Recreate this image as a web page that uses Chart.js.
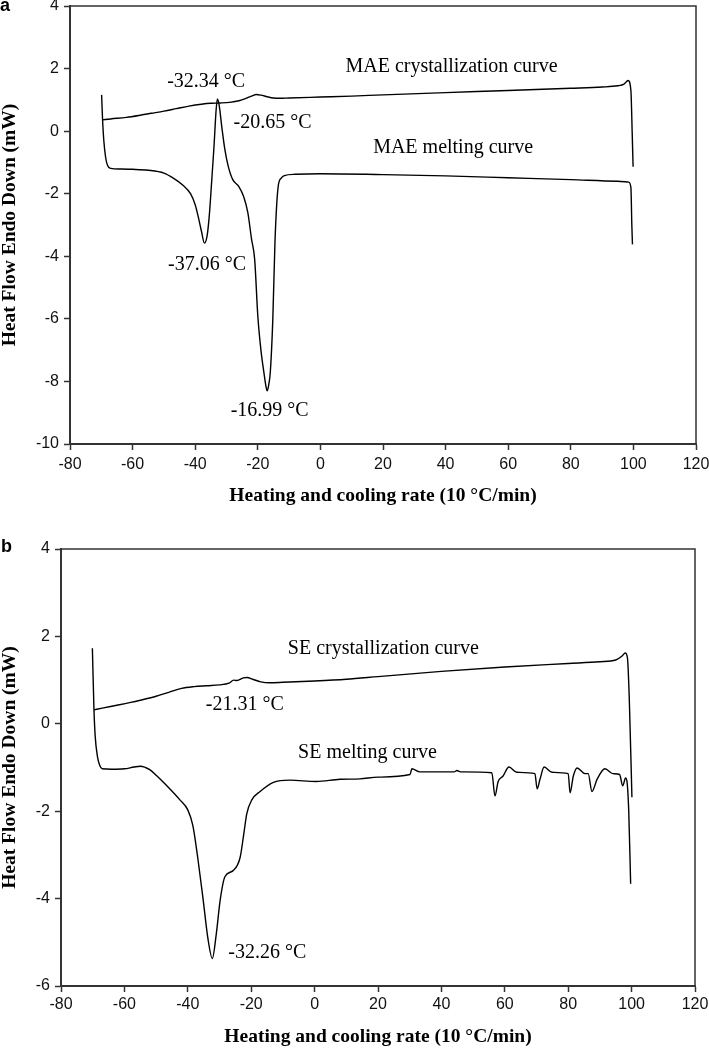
<!DOCTYPE html>
<html>
<head>
<meta charset="utf-8">
<script src="https://cdn.jsdelivr.net/npm/chart.js@4.4.1/dist/chart.umd.min.js"></script>
<style>
  html, body { margin: 0; padding: 0; background: #fff; }
  #page { position: relative; width: 709px; height: 1048px; overflow: hidden; }
  .panel { position: absolute; left: 0; width: 709px; }
  .letter { position: absolute; font: bold 18px "Liberation Sans", Arial, sans-serif; line-height: 18px; color: #000; }
</style>
</head>
<body>
<div id="page">
  <div class="panel" style="top:0;height:520px"><canvas id="chartA"></canvas></div>
  <div class="panel" style="top:520px;height:528px"><canvas id="chartB"></canvas></div>
  <div class="letter" style="left:0;top:-4px">a</div>
  <div class="letter" style="left:1px;top:537px">b</div>
</div>
<script>
// temperature axis (°C) shared by both panels
var xTicks = [-80, -60, -40, -20, 0, 20, 40, 60, 80, 100, 120];
var yTicksA = [-10, -8, -6, -4, -2, 0, 2, 4];
var yTicksB = [-6, -4, -2, 0, 2, 4];

// panel a - MAE
var maeCrystT = [-69.6, -67, -62, -58, -54, -50, -46, -42, -38, -35, -32, -29, -26, -24, -22, -20.5, -19, -17, -15, -13, -10, 0, 10, 20, 40, 60, 80, 90, 95, 97, 98.3, 99.2, 99.6, 99.9];
var maeCrystHF = [0.36, 0.39, 0.44, 0.50, 0.57, 0.64, 0.72, 0.80, 0.86, 0.89, 0.90, 0.92, 0.97, 1.04, 1.12, 1.17, 1.15, 1.10, 1.06, 1.05, 1.06, 1.09, 1.12, 1.16, 1.23, 1.30, 1.37, 1.41, 1.45, 1.50, 1.62, 1.30, 0.0, -1.14];

var maeMeltT = [-69.9, -69.6, -69.2, -68.6, -68, -67, -64, -60, -55, -50, -47, -44, -41.5, -40, -39, -38, -37.06, -36.2, -35.5, -34.8, -34, -33.3, -32.9, -32.3, -31.5, -30.5, -29.5, -28, -26, -24.5, -23.2, -22, -21, -20, -19, -18, -17.4, -16.99, -16.5, -16, -15.2, -14.5, -13.5, -12.5, -11.5, -8, 0, 20, 40, 60, 80, 95, 98.5, 99.2, 99.5, 99.7];
var maeMeltHF = [1.16, 0.38, -0.3, -0.85, -1.1, -1.19, -1.21, -1.22, -1.25, -1.34, -1.5, -1.72, -2.0, -2.35, -2.75, -3.2, -3.58, -3.35, -2.7, -1.7, -0.5, 0.7, 1.03, 0.8, 0.13, -0.6, -1.1, -1.55, -1.78, -2.1, -2.6, -3.45, -4.1, -5.9, -7.0, -7.75, -8.15, -8.3, -8.1, -7.7, -6.0, -3.5, -1.78, -1.5, -1.42, -1.38, -1.36, -1.39, -1.43, -1.49, -1.55, -1.6, -1.63, -1.8, -3.0, -3.62];

var noteTextA = ['-32.34 °C', '-20.65 °C', 'MAE crystallization curve', 'MAE melting curve', '-37.06 °C', '-16.99 °C'];
var noteXA = [-36.5, -15.3, 41.9, 42.4, -36.2, -16.2];
var noteYA = [1.57, 0.28, 2.05, -0.52, -4.26, -8.94];

// panel b - SE
var seCrystT = [-69.6, -67, -62, -58, -55, -50, -46, -42, -38, -34, -30, -27, -25.5, -24.5, -22.5, -21.3, -19.5, -17, -14, -10, 0, 10, 20, 40, 60, 80, 90, 95, 97, 98, 98.7, 99.3, 100.1];
var seCrystHF = [0.32, 0.36, 0.43, 0.49, 0.54, 0.63, 0.72, 0.81, 0.85, 0.87, 0.89, 0.93, 1.0, 0.99, 1.05, 1.06, 1.02, 0.96, 0.94, 0.95, 0.98, 1.02, 1.08, 1.2, 1.3, 1.38, 1.42, 1.46, 1.55, 1.62, 1.5, 0.5, -1.68];

var seMeltT = [-70.1, -69.6, -69.2, -68.5, -67.8, -67, -64, -60, -57, -55, -52, -49.8, -46.6, -42.5, -40, -38.4, -36.8, -35.2, -33.6, -32.26, -31, -29.8, -28.3, -25.7, -23.5, -22.3, -21.4, -19.8, -17.2, -13, -7.8, 0.5, 8, 14.3, 20, 30.1, 30.7, 33.2, 44, 44.9, 46, 55.9, 56.9, 57.9, 59.4, 61.3, 63.8, 69.5, 70.2, 71.1, 72.4, 74.9, 80, 80.6, 81.6, 82.8, 85.3, 86.3, 87.5, 89.1, 91.6, 94.1, 96.2, 97.2, 98.1, 98.5, 99.1, 99.7];
var seMeltHF = [1.73, 0.32, -0.3, -0.75, -0.95, -1.03, -1.04, -1.03, -0.99, -0.97, -1.05, -1.19, -1.42, -1.74, -1.97, -2.33, -3.1, -4.0, -4.94, -5.37, -4.8, -4.04, -3.5, -3.36, -3.06, -2.5, -2.06, -1.74, -1.55, -1.34, -1.29, -1.32, -1.27, -1.26, -1.22, -1.16, -1.03, -1.1, -1.1, -1.07, -1.1, -1.12, -1.65, -1.32, -1.2, -0.99, -1.11, -1.14, -1.49, -1.27, -0.99, -1.11, -1.14, -1.58, -1.2, -1.01, -1.14, -1.14, -1.55, -1.27, -1.03, -1.14, -1.16, -1.42, -1.24, -1.3, -2.0, -3.66];

var noteTextB = ['SE crystallization curve', '-21.31 °C', 'SE melting curve', '-32.26 °C'];
var noteXB = [21.7, -22.0, 16.7, -14.9];
var noteYB = [1.72, 0.44, -0.66, -5.23];

var serif = '"Liberation Serif", "Times New Roman", serif';
var sans = '"Liberation Sans", Arial, sans-serif';

function pairs(xs, ys) {
    return xs.map(function (x, i) { return {x: x, y: ys[i]}; });
}

function curve(xs, ys) {
    return {
        data: pairs(xs, ys),
        showLine: true,
        borderColor: '#000',
        borderWidth: 1.4,
        pointRadius: 0,
        cubicInterpolationMode: 'monotone',
        fill: false
    };
}

// box on top/right and the in-plot notes
var framePlugin = {
    id: 'frame',
    afterDatasetsDraw: function (chart, args, opts) {
        var ctx = chart.ctx, a = chart.chartArea;
        var xs = chart.scales.x, ys = chart.scales.y;
        ctx.save();
        ctx.strokeStyle = '#333';
        ctx.lineWidth = 1.5;
        ctx.beginPath();
        ctx.moveTo(a.left, a.top);
        ctx.lineTo(a.right, a.top);
        ctx.lineTo(a.right, a.bottom);
        ctx.stroke();
        ctx.fillStyle = '#000';
        ctx.font = '20px ' + serif;
        ctx.textAlign = 'center';
        ctx.textBaseline = 'middle';
        opts.texts.forEach(function (t, i) {
            ctx.fillText(t, xs.getPixelForValue(opts.xs[i]), ys.getPixelForValue(opts.ys[i]));
        });
        ctx.restore();
    }
};

function makeOptions(yTicks, lay) {
    return {
        responsive: true,
        maintainAspectRatio: false,
        animation: false,
        layout: {padding: {top: lay.top, right: lay.right, left: 0, bottom: 0}},
        plugins: {
            legend: {display: false},
            tooltip: {enabled: false},
            frame: {texts: lay.texts, xs: lay.nx, ys: lay.ny}
        },
        scales: {
            x: {
                type: 'linear',
                min: xTicks[0],
                max: xTicks[xTicks.length - 1],
                ticks: {stepSize: 20, color: '#111', padding: lay.xTickPad, font: {family: sans, size: 16}},
                grid: {drawOnChartArea: false, drawTicks: true, tickLength: 6, tickColor: '#333', tickWidth: 1.5},
                border: {color: '#333', width: 2},
                title: {
                    display: true,
                    text: 'Heating and cooling rate (10 °C/min)',
                    color: '#000',
                    font: {family: serif, size: 19.5, weight: 'bold', lineHeight: 1},
                    padding: {top: 0, bottom: lay.xTitlePad}
                },
                afterFit: function (s) { s.height = lay.xHeight; s.paddingLeft = 0; s.paddingRight = 0; }
            },
            y: {
                type: 'linear',
                min: yTicks[0],
                max: yTicks[yTicks.length - 1],
                ticks: {stepSize: 2, color: '#111', padding: 5, font: {family: sans, size: 16}},
                grid: {drawOnChartArea: false, drawTicks: true, tickLength: 6, tickColor: '#333', tickWidth: 1.5},
                border: {color: '#333', width: 2},
                title: {
                    display: true,
                    text: 'Heat Flow Endo Down (mW)',
                    color: '#000',
                    font: {family: serif, size: 19.5, weight: 'bold', lineHeight: 1},
                    padding: {top: lay.yTitlePad, bottom: 0}
                },
                afterFit: function (s) { s.width = lay.yWidth; s.paddingTop = 0; s.paddingBottom = 0; }
            }
        }
    };
}

var chartA = new Chart(document.getElementById('chartA'), {
    type: 'scatter',
    data: {datasets: [curve(maeCrystT, maeCrystHF), curve(maeMeltT, maeMeltHF)]},
    options: makeOptions(yTicksA, {
        top: 6, right: 13, yWidth: 70, xHeight: 76, xTickPad: 5, xTitlePad: 14, yTitlePad: 0,
        texts: noteTextA, nx: noteXA, ny: noteYA
    }),
    plugins: [framePlugin]
});

var chartB = new Chart(document.getElementById('chartB'), {
    type: 'scatter',
    data: {datasets: [curve(seCrystT, seCrystHF), curve(seMeltT, seMeltHF)]},
    options: makeOptions(yTicksB, {
        top: 29, right: 14, yWidth: 61, xHeight: 62, xTickPad: 3, xTitlePad: 1, yTitlePad: 0,
        texts: noteTextB, nx: noteXB, ny: noteYB
    }),
    plugins: [framePlugin]
});
</script>
</body>
</html>
